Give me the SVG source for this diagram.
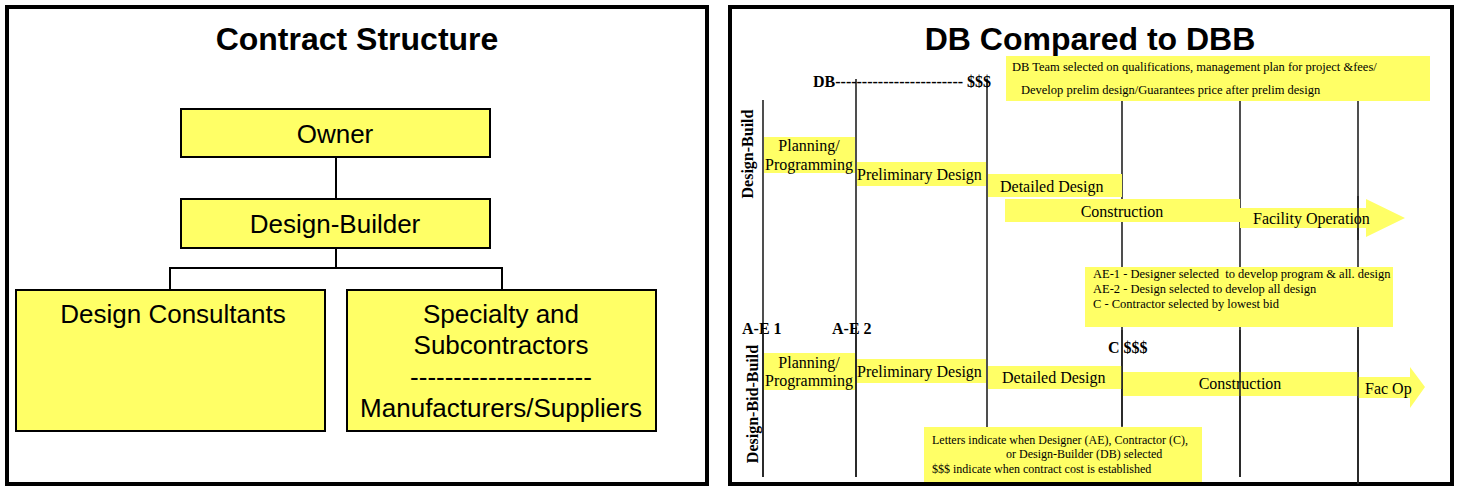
<svg xmlns="http://www.w3.org/2000/svg" width="1457" height="487" viewBox="0 0 1457 487">
<style>
.frame{fill:#fff;stroke:#000;stroke-width:4}
.box{fill:#ffff66;stroke:#000;stroke-width:2}
.bar{fill:#ffff66;stroke:none}
.conn{fill:none;stroke:#000;stroke-width:2}
.grid{stroke:#222;stroke-width:1.6}
.title{font-family:"Liberation Sans",Arial,sans-serif;font-weight:bold;font-size:32px;text-anchor:middle;fill:#000}
.lbl{font-family:"Liberation Sans",Arial,sans-serif;font-size:26px;text-anchor:middle;fill:#000}
.t16{font-family:"Liberation Serif","Times New Roman",serif;font-size:16px;fill:#000}
.b16{font-family:"Liberation Serif","Times New Roman",serif;font-size:16px;font-weight:bold;fill:#000}
.n12{font-family:"Liberation Serif","Times New Roman",serif;font-size:12px;fill:#000}
.n125{font-family:"Liberation Serif","Times New Roman",serif;font-size:12.5px;fill:#000}
.mid{text-anchor:middle}
</style>
<rect width="1457" height="487" fill="#fff"/>

<!-- LEFT PANEL -->
<g id="left-panel">
<rect class="frame" x="7" y="7" width="700" height="477"/>
<text class="title" x="357" y="50">Contract Structure</text>
</g>
<g id="connectors">
<polyline class="conn" points="336,157 336,199"/>
<polyline class="conn" points="336,248 336,268"/>
<polyline class="conn" points="170,290 170,268 502,268 502,290"/>
</g>
<g id="owner">
<rect class="box" x="181" y="109" width="309" height="48"/>
<text class="lbl" x="335" y="143">Owner</text>
</g>
<g id="design-builder">
<rect class="box" x="181" y="199" width="309" height="49"/>
<text class="lbl" x="335" y="233">Design-Builder</text>
</g>
<g id="design-consultants">
<rect class="box" x="16" y="290" width="309" height="141"/>
<text class="lbl" x="173" y="323">Design Consultants</text>
</g>
<g id="specialty">
<rect class="box" x="347" y="290" width="309" height="141"/>
<text class="lbl" x="501" y="323">Specialty and</text>
<text class="lbl" x="501" y="354">Subcontractors</text>
<text class="lbl" x="501" y="386">---------------------</text>
<text class="lbl" x="501" y="417">Manufacturers/Suppliers</text>
</g>

<!-- RIGHT PANEL -->
<g id="right-panel">
<rect class="frame" x="730" y="7" width="722" height="477"/>
<text class="title" x="1090" y="50">DB Compared to DBB</text>
</g>

<g id="gridlines">
<line class="grid" x1="763" y1="100" x2="763" y2="477"/>
<line class="grid" x1="856" y1="79" x2="856" y2="477"/>
<line class="grid" x1="987" y1="79" x2="987" y2="477"/>
<line class="grid" x1="1122" y1="101" x2="1122" y2="477"/>
<line class="grid" x1="1240" y1="101" x2="1240" y2="477"/>
<line class="grid" x1="1358" y1="101" x2="1358" y2="484"/>
</g>

<g id="db-label">
<text class="b16" x="813" y="87">DB------------------------ $$$</text>
<text class="b16 mid" transform="translate(753,154) rotate(-90)">Design-Build</text>
</g>
<g id="db-note">
<rect class="bar" x="1006" y="56" width="424" height="45"/>
<text class="n125" x="1012" y="71">DB Team selected on qualifications, management plan for project &amp;fees/</text>
<text class="n125" x="1021" y="94">Develop prelim design/Guarantees price after prelim design</text>
</g>
<g id="db-planning">
<rect class="bar" x="764" y="137" width="91" height="36"/>
<text class="t16 mid" x="809" y="151">Planning/</text>
<text class="t16 mid" x="809" y="170">Programming</text>
</g>
<g id="db-preliminary">
<rect class="bar" x="857" y="162" width="129" height="24"/>
<text class="t16" x="857" y="180">Preliminary Design</text>
</g>
<g id="db-detailed">
<rect class="bar" x="988" y="174" width="134" height="23"/>
<text class="t16" x="1000" y="192">Detailed Design</text>
</g>
<g id="db-construction">
<rect class="bar" x="1005" y="199" width="235" height="23"/>
<text class="t16 mid" x="1122" y="217">Construction</text>
</g>
<g id="db-facility">
<path class="bar" d="M1240,208 H1366 V199 L1405,218 L1366,237 V228 H1240 Z"/>
<text class="t16" x="1253" y="224">Facility Operation</text>
</g>

<g id="dbb-label">
<text class="b16 mid" transform="translate(758,404) rotate(-90)">Design-Bid-Build</text>
<text class="b16" x="742" y="334">A-E 1</text>
<text class="b16" x="832" y="334">A-E 2</text>
<text class="b16" x="1108" y="353">C $$$</text>
</g>
<g id="ae-note">
<rect class="bar" x="1085" y="267" width="308" height="60"/>
<text class="n125" x="1093" y="278" xml:space="preserve">AE-1 - Designer selected  to develop program &amp; all. design</text>
<text class="n125" x="1093" y="293">AE-2 - Design selected to develop all design</text>
<text class="n125" x="1093" y="308">C - Contractor selected by lowest bid</text>
</g>
<g id="dbb-planning">
<rect class="bar" x="764" y="353" width="91" height="37"/>
<text class="t16 mid" x="809" y="368">Planning/</text>
<text class="t16 mid" x="809" y="386">Programming</text>
</g>
<g id="dbb-preliminary">
<rect class="bar" x="857" y="359" width="129" height="24"/>
<text class="t16" x="857" y="377">Preliminary Design</text>
</g>
<g id="dbb-detailed">
<rect class="bar" x="988" y="366" width="134" height="23"/>
<text class="t16" x="1002" y="383">Detailed Design</text>
</g>
<g id="dbb-construction">
<rect class="bar" x="1123" y="372" width="235" height="24"/>
<text class="t16 mid" x="1240" y="389">Construction</text>
</g>
<g id="dbb-facop">
<path class="bar" d="M1358,377 H1410 V367 L1425,387 L1410,408 V398 H1358 Z"/>
<text class="t16" x="1365" y="394">Fac Op</text>
</g>

<g id="gridlines-front">
<line class="grid" x1="1358" y1="196" x2="1358" y2="240"/>
<line class="grid" x1="763" y1="330" x2="763" y2="477"/>
<line class="grid" x1="856" y1="330" x2="856" y2="477"/>
<line class="grid" x1="1122" y1="330" x2="1122" y2="426"/>
<line class="grid" x1="1240" y1="330" x2="1240" y2="477"/>
<line class="grid" x1="1358" y1="330" x2="1358" y2="484"/>
</g>

<g id="legend-note">
<rect class="bar" x="924" y="427" width="278" height="55"/>
<text class="n12" x="932" y="444">Letters indicate when Designer (AE), Contractor (C),</text>
<text class="n12" x="1006" y="458">or Design-Builder (DB) selected</text>
<text class="n12" x="932" y="473">$$$ indicate when contract cost is established</text>
</g>
</svg>
